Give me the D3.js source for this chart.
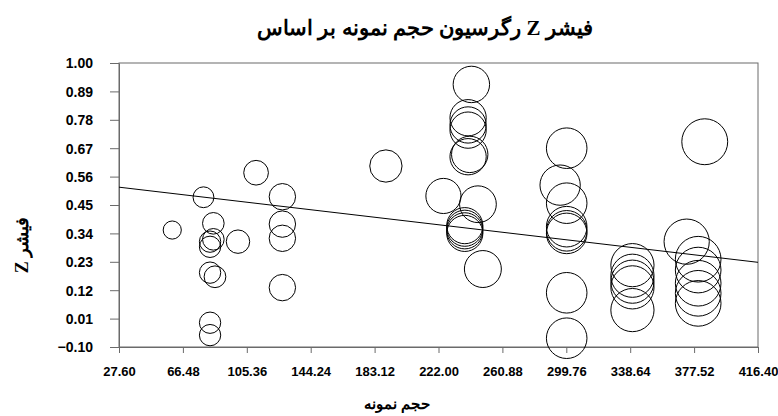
<!DOCTYPE html>
<html><head><meta charset="utf-8">
<script src="https://cdn.jsdelivr.net/npm/d3@7"></script>
<style>body{margin:0;background:#fff}svg{display:block}</style>
</head><body><svg id="c" width="778" height="416"></svg>
<script>
// sample size (x) and Fisher Z (y); bubble size = sample size
const sampleSize = [60,79,85,85,83,83,100,83,86,83,83,111,127,127,127,127,190,225,242,240,240,240,241,240,238,238,238,238,246,249,300,296,300,300,300,300,300,300,340,340,340,340,340,384,373,380,380,380,380,380];
const fisherZ   = [0.353,0.48,0.379,0.317,0.308,0.288,0.308,0.188,0.172,-0.006,-0.054,0.575,0.482,0.376,0.321,0.13,0.601,0.485,0.917,0.788,0.76,0.74,0.646,0.637,0.37,0.36,0.35,0.34,0.453,0.202,0.67,0.527,0.457,0.366,0.35,0.34,0.11,-0.066,0.217,0.176,0.153,0.131,0.043,0.695,0.308,0.24,0.198,0.147,0.108,0.069];
const xTicks = [27.60,66.48,105.36,144.24,183.12,222.00,260.88,299.76,338.64,377.52,416.40];
const yTicks = [-0.10,0.01,0.12,0.23,0.34,0.45,0.56,0.67,0.78,0.89,1.00];
const trendX = [27.60,416.40];
const trendY = [0.519,0.228];
const title = "فیشر Z رگرسیون حجم نمونه بر اساس";
const xTitle = "حجم نمونه";
const yTitle = "فیشر Z";

const svg = d3.select("#c");
const m = {l:119, r:20, t:63, b:69};
const W = 778, H = 416;
const x = d3.scaleLinear().domain([27.6,416.4]).range([m.l, W-m.r]);
const y = d3.scaleLinear().domain([-0.1,1.0]).range([H-m.b, m.t]);
const r = d3.scaleSqrt().domain([0,416.4]).range([0,23.9]);
const axisCol = "#6a6a6a";

svg.append("rect").attr("x",m.l).attr("y",m.t).attr("width",W-m.l-m.r).attr("height",H-m.t-m.b)
  .attr("fill","none").attr("stroke",axisCol).attr("stroke-width",1);

const gx = svg.append("g").attr("transform",`translate(0,${H-m.b})`)
  .call(d3.axisBottom(x).tickValues(xTicks).tickFormat(d3.format(".2f")).tickSize(6).tickSizeOuter(0).tickPadding(14));
const gy = svg.append("g").attr("transform",`translate(${m.l},0)`)
  .call(d3.axisLeft(y).tickValues(yTicks).tickFormat(d3.format(".2f")).tickSize(9).tickSizeOuter(0).tickPadding(17));
[gx,gy].forEach(g=>{
  g.selectAll("path,line").attr("stroke",axisCol);
  g.selectAll("text").attr("font-family","Arial, 'Liberation Sans', sans-serif").attr("font-weight","bold")
    .attr("fill","#000");
});
gx.selectAll("text").attr("font-size","13px");
gy.selectAll("text").attr("font-size","14px").attr("dy","0.35em");

const pts = sampleSize.map((n,i)=>({n, z:fisherZ[i]}));
svg.append("g").selectAll("circle").data(pts).join("circle")
  .attr("cx",d=>x(d.n)).attr("cy",d=>y(d.z)).attr("r",d=>r(d.n))
  .attr("fill","none").attr("stroke","#000").attr("stroke-width",1);

svg.append("line").attr("x1",x(trendX[0])).attr("y1",y(trendY[0])).attr("x2",x(trendX[1])).attr("y2",y(trendY[1]))
  .attr("stroke","#000").attr("stroke-width",1);

svg.append("text").attr("x",425).attr("y",35).attr("text-anchor","middle").attr("direction","rtl")
  .attr("font-family","'Times New Roman','Liberation Serif','DejaVu Serif',serif").attr("font-weight","bold")
  .attr("font-size","21px").text(title);
svg.append("text").attr("x",397).attr("y",409).attr("text-anchor","middle").attr("direction","rtl")
  .attr("font-family","'Times New Roman','Liberation Serif','DejaVu Serif',serif").attr("font-weight","bold")
  .attr("font-size","15px").text(xTitle);
svg.append("text").attr("transform","translate(28,245) rotate(-90)").attr("text-anchor","middle").attr("direction","rtl")
  .attr("font-family","'Times New Roman','Liberation Serif','DejaVu Serif',serif").attr("font-weight","bold")
  .attr("font-size","18px").text(yTitle);
</script></body></html>
